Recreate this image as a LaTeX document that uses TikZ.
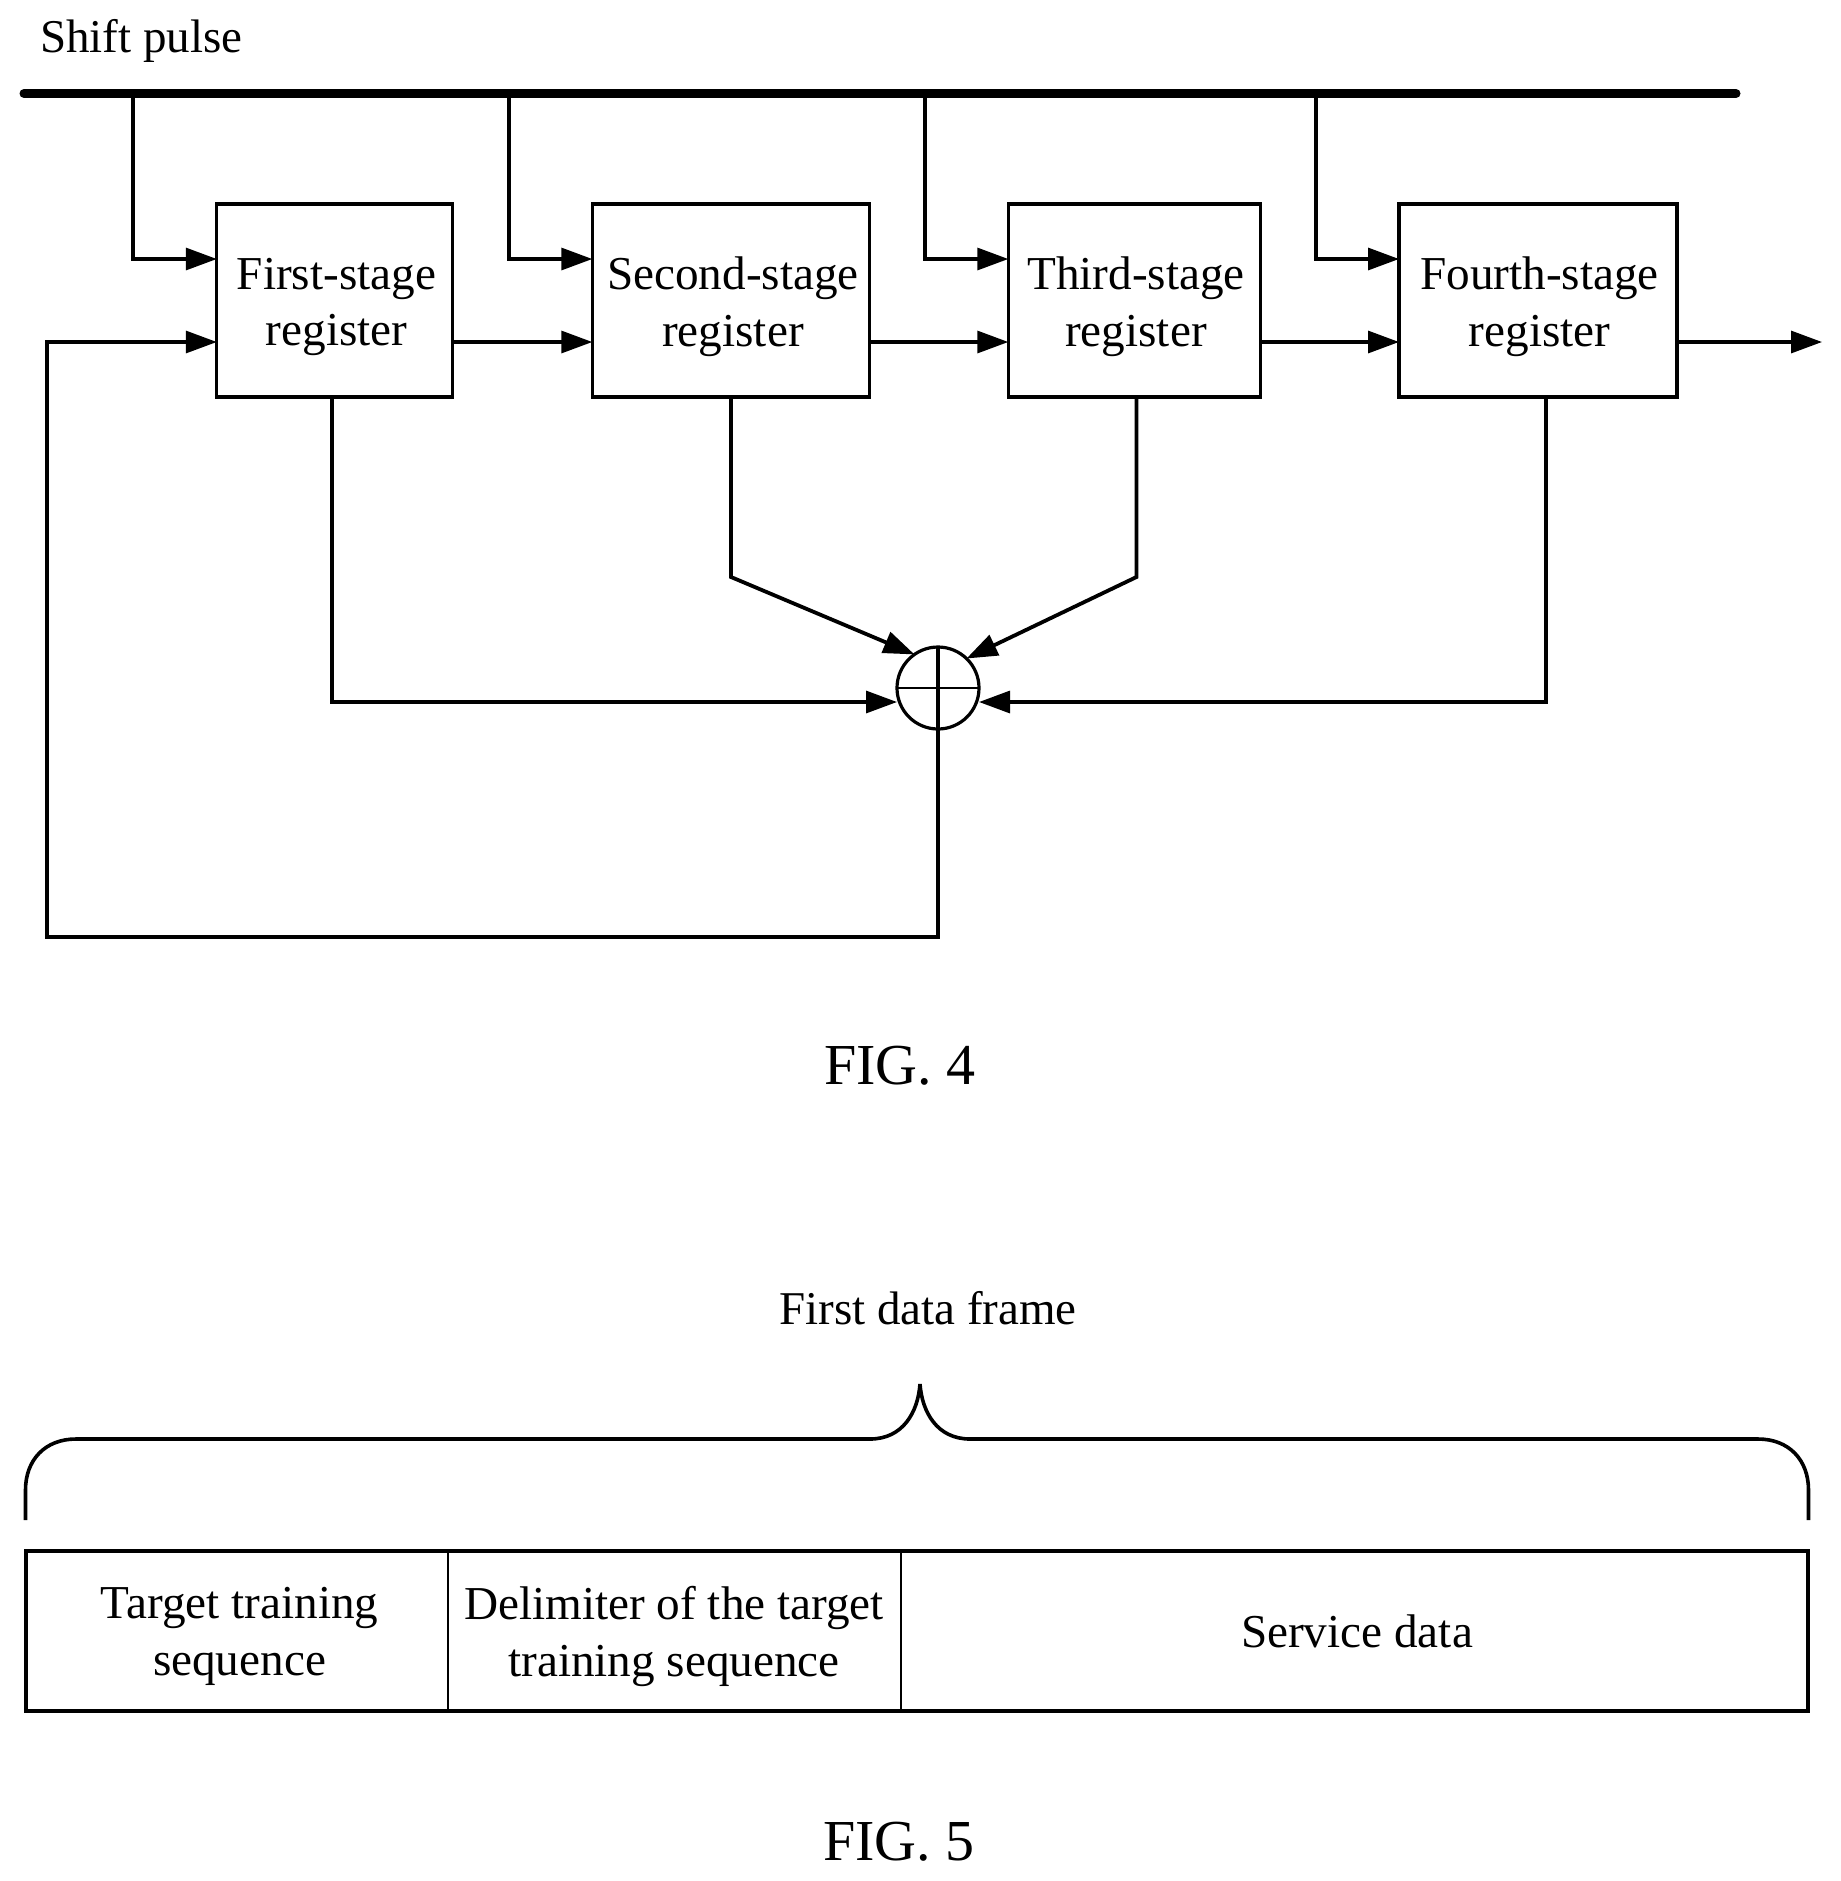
\documentclass[tikz,border=0pt]{standalone}
\usepackage{fontspec}
\setmainfont{Liberation Serif}
\usetikzlibrary{arrows.meta}
\tikzset{
  x=0.5pt,y=-0.5pt,
  wire/.style={line width=1.6pt,line join=miter,-{Triangle[length=15.5pt,width=11pt]}},
  heavywire/.style={wire,line width=1.9pt},
  plain/.style={line width=1.6pt,line join=miter},
  bus/.style={line width=4.5pt,line cap=round},
  regbox/.style={draw,line width=1.6pt,inner sep=0pt,outer sep=0pt,minimum height=96.5pt},
  regtext/.style={inner sep=0pt,outer sep=0pt,align=center,font=\fontsize{23.6pt}{28.4pt}\selectfont},
  adder/.style={draw,circle,line width=1.6pt,inner sep=0pt,outer sep=0pt,minimum size=41pt},
  lab/.style={inner sep=0pt,outer sep=0pt,anchor=base,font=\fontsize{23.5pt}{28.4pt}\selectfont},
  cell/.style={inner sep=0pt,outer sep=0pt,align=center,font=\fontsize{23.6pt}{28.4pt}\selectfont},
  figlab/.style={inner sep=0pt,outer sep=0pt,anchor=base,font=\fontsize{29pt}{34pt}\selectfont},
  framebox/.style={draw,line width=1.8pt,inner sep=0pt,outer sep=0pt,minimum width=891pt,minimum height=80pt},
  divider/.style={line width=1.2pt},
  bracket/.style={line width=1.8pt,line join=bevel}
}
\begin{document}
\begin{tikzpicture}
\useasboundingbox (0,0) rectangle (1841,1881);
% FIG. 4
\node[lab,anchor=base west] (shift) at (40,52) {Shift pulse};
\coordinate (busL) at (24,93.5);
\coordinate (busR) at (1736,93.5);
\draw[bus] (busL) -- (busR);
\coordinate (clk) at (0,259);
\coordinate (dat) at (0,342);
\coordinate (d1) at (133,93.5);
\coordinate (d2) at (509,93.5);
\coordinate (d3) at (925,93.5);
\coordinate (d4) at (1316,93.5);
\node[regbox,minimum width=118pt] (b1) at (334.8,300.5) {};
\node[regbox,minimum width=138.5pt] (b2) at (730.8,300.5) {};
\node[regbox,minimum width=126pt] (b3) at (1134.3,300.5) {};
\node[regbox,minimum width=139pt] (b4) at (1538,300.5) {};
\node[regtext] (t1) at (336.5,307) {First-stage\\register};
\node[regtext] (t2) at (733,307) {Second-stage\\register};
\node[regtext] (t3) at (1136,307) {Third-stage\\register};
\node[regtext] (t4) at (1539.5,307) {Fourth-stage\\register};
\node[adder] (sum) at (938,688) {};
\draw[plain] (sum.north) -- (sum.south);
\draw[plain,line width=1.4pt] (sum.west) -- (sum.east);
\draw[wire] (d1) |- (b1.west |- clk);
\draw[wire] (d2) |- (b2.west |- clk);
\draw[wire] (d3) |- (b3.west |- clk);
\draw[wire] (d4) |- (b4.west |- clk);
\draw[wire] (b1.east |- dat) -- (b2.west |- dat);
\draw[wire] (b2.east |- dat) -- (b3.west |- dat);
\draw[wire] (b3.east |- dat) -- (b4.west |- dat);
\coordinate (out) at (1822,342);
\draw[wire] (b4.east |- dat) -- (out);
% tap points
\coordinate (e1) at (332,702);
\coordinate (e4) at (1546,702);
\coordinate (k2) at (731,577);
\coordinate (k3) at (1136.5,577);
\draw[wire] (b1.south -| e1) -- (e1) -- (sum.west |- e1);
\draw[wire] (b4.south -| e4) -- (e4) -- (sum.east |- e4);
\draw[heavywire] (b2.south -| k2) -- (k2) -- (sum.125);
\draw[heavywire] (b3.south -| k3) -- (k3) -- (sum.46);
\coordinate (fb) at (47,937);
\draw[wire] (sum.south) -- (sum.south |- fb) -- (fb) -- (fb |- dat) -- (b1.west |- dat);
\node[figlab] (fig4) at (900,1084) {FIG. 4};
% FIG. 5
\node[lab] (title) at (928,1324) {First data frame};
\coordinate (brL) at (25.5,1520);
\coordinate (brR) at (1808.5,1520);
\coordinate (brT) at (920,1384);
\draw[bracket] (brL) -- (25.5,1490) .. controls (25.5,1460) and (45,1439) .. (76,1439) -- (870,1439)
  .. controls (903,1439) and (918,1412) .. (brT)
  .. controls (922,1412) and (937,1439) .. (970,1439) -- (1758,1439)
  .. controls (1789,1439) and (1808.5,1460) .. (1808.5,1490) -- (brR);
\node[framebox] (frame) at (917,1631) {};
\coordinate (v1) at (448,1631);
\coordinate (v2) at (901,1631);
\draw[divider] (frame.north -| v1) -- (frame.south -| v1);
\draw[divider] (frame.north -| v2) -- (frame.south -| v2);
\node[cell] (c1) at (239.5,1636.5) {Target training\\sequence};
\node[cell] (c2) at (674,1636.5) {Delimiter of the target\\training sequence};
\node[cell] (c3) at (1357,1631) {Service data};
\node[figlab] (fig5) at (899,1860) {FIG. 5};
\end{tikzpicture}
\end{document}
